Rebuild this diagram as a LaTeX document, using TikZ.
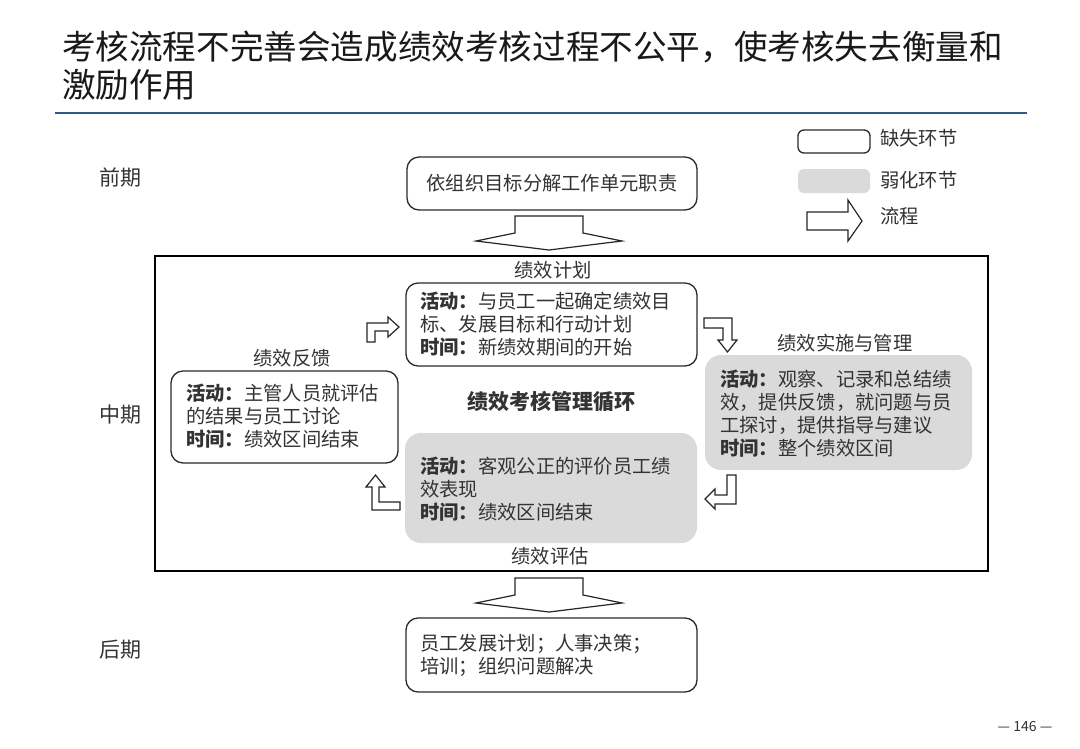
\documentclass[tikz,border=0pt]{standalone}
\usepackage{fontspec}
\setmainfont{Noto Sans CJK SC}
\definecolor{txtgray}{HTML}{333333}
\definecolor{grayfill}{HTML}{DADADA}
\definecolor{rulec}{HTML}{2F5A88}
\definecolor{boxline}{HTML}{2A2A2A}
\begin{document}
\begin{tikzpicture}[x=1pt,y=-1pt,
  lbl/.style={font=\fontsize{19.3}{23}\selectfont, text=txtgray, inner sep=0},
  blk/.style={lbl, align=left, anchor=north west},
  phase/.style={font=\fontsize{21}{25}\selectfont, text=txtgray, inner sep=0},
  titlef/.style={font=\fontsize{33.6}{38}\selectfont, text=black!90, inner sep=0, anchor=west},
  wbox/.style={draw=boxline, line width=1.3, rounded corners=12, fill=white, inner sep=0},
  gbox/.style={fill=grayfill, rounded corners=16, inner sep=0},
  flow/.style={draw=black!85, line width=1.2, fill=white, line join=miter}
]
\useasboundingbox (0,0) rectangle (1080,748);
\fill[white] (0,0) rectangle (1080,748);

% title
\node[titlef] (title1) at (62,47) {考核流程不完善会造成绩效考核过程不公平，使考核失去衡量和};
\node[titlef] (title2) at (62,85) {激励作用};
\coordinate (ruleL) at (55,113);
\coordinate (ruleR) at (1027,113);
\draw[rulec, line width=2.5] (ruleL) -- (ruleR);

% legend
\node[wbox, rounded corners=6, minimum width=72, minimum height=23] (lg1) at (834,141.5) {};
\node[gbox, rounded corners=6, minimum width=72, minimum height=24] (lg2) at (834,181) {};
\node[lbl, anchor=west] (lg1t) at (880,138) {缺失环节};
\node[lbl, anchor=west] (lg2t) at (880,180) {弱化环节};
\node[lbl, anchor=west] (lg3t) at (880,216) {流程};
\draw[flow] (807,212) -- (848,212) -- (848,200) -- (862,221) -- (848,241) -- (848,230) -- (807,230) -- cycle;

% phases
\node[phase] (p1) at (120,178) {前期};
\node[phase] (p2) at (120,415) {中期};
\node[phase] (p3) at (120,650) {后期};

% top box
\node[wbox, minimum width=290, minimum height=53, lbl] (top) at (552,183.5) {依组织目标分解工作单元职责};

% big down arrow 1
\draw[flow] (515,216) -- (583,216) -- (583,233) -- (622,241) -- (549,250) -- (476,241) -- (515,233) -- cycle;

% frame
\node[draw=black, line width=1.2, minimum width=833, minimum height=315, inner sep=0] (frame) at (571.5,413.5) {};

% labels
\node[lbl] (l1) at (553,270) {绩效计划};
\node[lbl] (l2) at (845,343) {绩效实施与管理};
\node[lbl] (l3) at (292,358) {绩效反馈};
\node[lbl] (l4) at (550,556) {绩效评估};

% plan box
\node[wbox, minimum width=291, minimum height=83] (plan) at (551.5,324.5) {};
\node[blk] (plant) at (420,291.5) {\textbf{活动：}与员工一起确定绩效目\\标、发展目标和行动计划\\\textbf{时间：}新绩效期间的开始};

% implementation box
\node[gbox, minimum width=267, minimum height=115] (impl) at (838.5,412.5) {};
\node[blk] (implt) at (720,369.5) {\textbf{活动：}观察、记录和总结绩\\效，提供反馈，就问题与员\\工探讨，提供指导与建议\\\textbf{时间：}整个绩效区间};

% feedback box
\node[wbox, minimum width=227, minimum height=92] (fb) at (284.5,417) {};
\node[blk] (fbt) at (186,383.5) {\textbf{活动：}主管人员就评估\\的结果与员工讨论\\\textbf{时间：}绩效区间结束};

% evaluation box
\node[gbox, minimum width=292, minimum height=110] (ev) at (551,488) {};
\node[blk] (evt) at (420,456.5) {\textbf{活动：}客观公正的评价员工绩\\效表现\\\textbf{时间：}绩效区间结束};

% center
\node[font=\fontsize{21}{25}\selectfont\bfseries, text=txtgray, inner sep=0] (cyc) at (551,402) {绩效考核管理循环};

% small L arrows
\draw[flow] (367,342) -- (367,323) -- (388,323) -- (388,317) -- (399,327) -- (388,337) -- (388,331) -- (375,331) -- (375,342) -- cycle;
\draw[flow] (704,318) -- (732,318) -- (732,340) -- (737,340) -- (727.5,352) -- (718,340) -- (723,340) -- (723,328) -- (704,328) -- cycle;
\draw[flow] (727,475) -- (736,475) -- (736,504) -- (715,504) -- (715,509) -- (705,499) -- (715,489) -- (715,495) -- (727,495) -- cycle;
\draw[flow] (372,510) -- (372,487) -- (366,487) -- (375.5,475) -- (385,487) -- (379,487) -- (379,502) -- (400,502) -- (400,510) -- cycle;

% big down arrow 2
\draw[flow] (515,578) -- (583,578) -- (583,595) -- (622,603) -- (549,612) -- (476,603) -- (515,595) -- cycle;

% bottom box
\node[wbox, minimum width=291, minimum height=74] (bot) at (551.5,655) {};
\node[blk] (bott) at (420,633.5) {员工发展计划；人事决策；\\培训；组织问题解决};

% page number
\node[font=\fontsize{14}{16}\selectfont, text=txtgray, inner sep=0] (pg) at (1025,726) {— 146 —};
\end{tikzpicture}
\end{document}
